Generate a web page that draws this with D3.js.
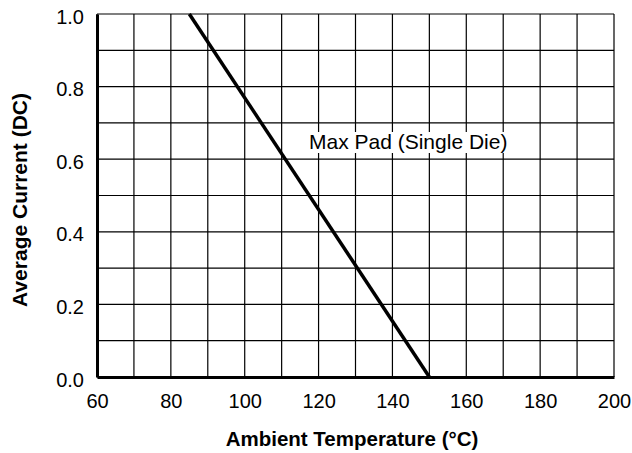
<!DOCTYPE html>
<html><head><meta charset="utf-8">
<script src="https://cdn.jsdelivr.net/npm/d3@7/dist/d3.min.js"></script>
<style>body{margin:0;background:#fff;}svg{display:block;}text{font-family:"Liberation Sans",Arial,sans-serif;}</style>
</head><body><svg id="c" width="632" height="453"></svg>
<script>
const xTicks = [60, 80, 100, 120, 140, 160, 180, 200];
const yTicks = [0.0, 0.2, 0.4, 0.6, 0.8, 1.0];
const seriesTemp = [85, 150];
const seriesCurrent = [1.0, 0.0];
const seriesLabel = "Max Pad (Single Die)";
const xTitle = "Ambient Temperature (°C)";
const yTitle = "Average Current (DC)";

const svg = d3.select("#c");
const L = 97, R = 614, T = 14, B = 377;
const x = d3.scaleLinear().domain([60, 200]).range([L, R]);
const y = d3.scaleLinear().domain([0, 1]).range([B, T]);

const g = svg.append("g");
// grid
g.selectAll(".vg").data(d3.range(60, 201, 10)).join("line")
  .attr("x1", d => x(d)).attr("x2", d => x(d)).attr("y1", T).attr("y2", B)
  .attr("stroke", "#000").attr("stroke-width", 1.2);
g.selectAll(".hg").data(d3.range(0, 11).map(i => i / 10)).join("line")
  .attr("x1", L).attr("x2", R).attr("y1", d => y(d)).attr("y2", d => y(d))
  .attr("stroke", "#000").attr("stroke-width", 1.2);

// label with white background
const lbl = svg.append("text").attr("x", 309).attr("y", 149).attr("font-size", 21).text(seriesLabel);
const bb = lbl.node().getBBox();
svg.insert("rect", "text").attr("x", bb.x - 1).attr("y", 132).attr("width", bb.width + 2).attr("height", 21).attr("fill", "#fff");

// axes
const xAxis = d3.axisBottom(x).tickValues(xTicks).tickSize(0).tickPadding(17).tickFormat(d3.format("d"));
const yAxis = d3.axisLeft(y).tickValues(yTicks).tickSize(0).tickPadding(13).tickFormat(d3.format(".1f"));
const gx = svg.append("g").attr("transform", `translate(0,${B})`).call(xAxis);
const gy = svg.append("g").attr("transform", `translate(${L},0)`).call(yAxis);
[gx, gy].forEach(a => {
  a.select(".domain").attr("stroke", "#000").attr("stroke-width", 3);
  a.selectAll("text").attr("font-size", 20).attr("fill", "#000").attr("font-family", "Liberation Sans, Arial, sans-serif");
});
gy.selectAll("text").attr("dy", "0.45em");

// data line
const pts = seriesTemp.map((t, i) => [t, seriesCurrent[i]]);
svg.append("path").datum(pts)
  .attr("d", d3.line().x(d => x(d[0])).y(d => y(d[1])))
  .attr("fill", "none").attr("stroke", "#000").attr("stroke-width", 3.5);

svg.append("text").attr("x", 352).attr("y", 446).attr("text-anchor", "middle")
  .attr("font-size", 20.5).attr("font-weight", "bold").text(xTitle);
svg.append("text").attr("transform", `translate(27,200) rotate(-90)`).attr("text-anchor", "middle")
  .attr("font-size", 21).attr("font-weight", "bold").text(yTitle);
</script></body></html>
